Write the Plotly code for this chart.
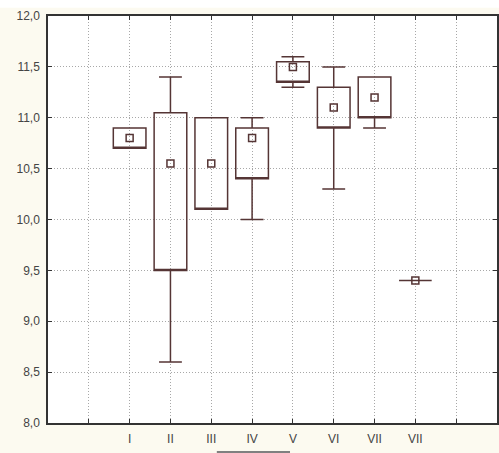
import plotly.graph_objects as go

# ---- data ----
categories = ["I", "II", "III", "IV", "V", "VI", "VII", "VII"]
positions = [2, 3, 4, 5, 6, 7, 8, 9]
box_low = [10.7, 9.5, 10.1, 10.4, 11.35, 10.9, 11.0, 9.4]
box_high = [10.9, 11.05, 11.0, 10.9, 11.55, 11.3, 11.4, 9.4]
whisker_low = [10.7, 8.6, 10.1, 10.0, 11.3, 10.3, 10.9, 9.4]
whisker_high = [10.9, 11.4, 11.0, 11.0, 11.6, 11.5, 11.4, 9.4]
centers = [10.8, 10.55, 10.55, 10.8, 11.5, 11.1, 11.2, 9.4]

tick_positions = [1, 2, 3, 4, 5, 6, 7, 8, 9, 10]
tick_labels = [""] + categories + [""]
y_ticks = [8.0, 8.5, 9.0, 9.5, 10.0, 10.5, 11.0, 11.5, 12.0]

line_color = "#553535"

fig = go.Figure()
fig.add_trace(go.Box(
    x=positions,
    q1=box_low,
    median=box_low,
    q3=box_high,
    lowerfence=whisker_low,
    upperfence=whisker_high,
    width=0.8,
    whiskerwidth=0.7,
    line=dict(color=line_color, width=1.5),
    fillcolor="rgba(0,0,0,0)",
    boxpoints=False,
    showlegend=False,
    hoverinfo="skip",
))
fig.add_trace(go.Scatter(
    x=positions,
    y=centers,
    mode="markers",
    marker=dict(symbol="square-open", size=7, color=line_color,
                line=dict(width=1.5, color=line_color)),
    showlegend=False,
    hoverinfo="skip",
))

axis_common = dict(
    showline=True, mirror="ticks", linecolor="#333333", linewidth=1.5,
    showgrid=True, gridcolor="#a8a8a8", griddash="1px,2px", gridwidth=1,
    ticks="inside", ticklen=4, tickcolor="#333333", tickwidth=1,
    zeroline=False, automargin=False,
    tickfont=dict(family="Liberation Sans, Arial, sans-serif", size=12, color="#444444"),
)

fig.update_xaxes(range=[0, 11], tickmode="array", tickvals=tick_positions,
                 ticktext=tick_labels, ticklabelstandoff=4, **axis_common)
fig.update_yaxes(range=[8.0, 12.0], tickmode="array", tickvals=y_ticks,
                 tickformat=".1f", ticklabelstandoff=4, **axis_common)

fig.add_shape(type="rect", xref="paper", yref="paper", x0=-0.2, x1=1.1,
              y0=1.02, y1=1.05, fillcolor="white", line=dict(width=0))
fig.add_shape(type="line", xref="paper", yref="paper", x0=0.376, x1=0.539,
              y0=-0.071, y1=-0.071, line=dict(color="#808080", width=2))

fig.update_layout(
    template="none",
    width=499, height=453,
    margin=dict(l=48, r=2, t=16, b=30),
    paper_bgcolor="#fcfaf0",
    plot_bgcolor="white",
    separators=", ",
    showlegend=False,
)

fig.write_html("out.html", config={"displayModeBar": False},
               post_script="document.body.style.margin='0';document.body.style.overflow='hidden';")
